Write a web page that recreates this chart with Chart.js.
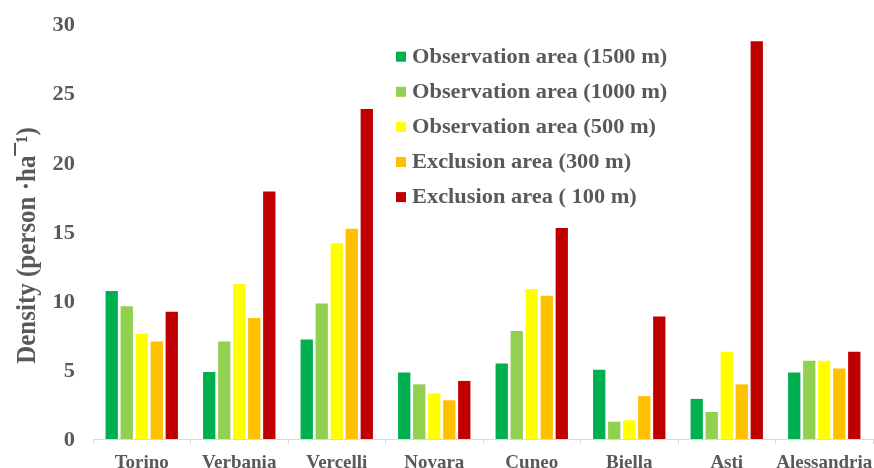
<!DOCTYPE html>
<html>
<head>
<meta charset="utf-8">
<script src="https://cdn.jsdelivr.net/npm/chart.js@4"></script>
<style>
  html, body { margin: 0; padding: 0; background: #fff; }
  #wrap { width: 874px; height: 468px; }
</style>
</head>
<body>
<div id="wrap"><canvas id="c" width="874" height="468"></canvas></div>
<script>
// Population density per province, by observation / exclusion radius
const provinces = ['Torino', 'Verbania', 'Vercelli', 'Novara', 'Cuneo', 'Biella', 'Asti', 'Alessandria'];
const obs1500 = [10.7, 4.85, 7.2, 4.8, 5.45, 5.0, 2.9, 4.8];
const obs1000 = [9.6, 7.05, 9.8, 3.95, 7.8, 1.25, 1.95, 5.65];
const obs500  = [7.6, 11.2, 14.15, 3.3, 10.85, 1.35, 6.3, 5.65];
const excl300 = [7.05, 8.75, 15.2, 2.8, 10.35, 3.1, 3.95, 5.1];
const excl100 = [9.2, 17.9, 23.85, 4.2, 15.25, 8.85, 28.75, 6.3];
const seriesNames = [
  'Observation area (1500 m)',
  'Observation area (1000 m)',
  'Observation area (500 m)',
  'Exclusion area (300 m)',
  'Exclusion area ( 100 m)'
];
const seriesColors = ['#00B050', '#92D050', '#FFFF00', '#FFC000', '#C00000'];
const yTicks = [0, 5, 10, 15, 20, 25, 30];
const yTitle = 'Density (person ·ha¯¹)';

const textColor = '#595959';
const serif = "'Liberation Serif', 'Times New Roman', serif";
const STRETCH = 1.12; // wide-set lettering

function wideText(ctx, text, x, y, opts) {
  ctx.save();
  ctx.font = opts.font;
  ctx.fillStyle = textColor;
  ctx.textAlign = opts.align || 'left';
  ctx.textBaseline = opts.baseline || 'middle';
  ctx.translate(x, y);
  ctx.scale(opts.stretch || STRETCH, 1);
  if (opts.rotate) ctx.rotate(opts.rotate);
  ctx.fillText(text, 0, 0);
  ctx.restore();
}

// Axis labels, axis title and legend, all in the same serif lettering
const lettering = {
  id: 'lettering',
  afterDraw(chart) {
    const ctx = chart.ctx;
    const xs = chart.scales.x, ys = chart.scales.y;
    const tickFont = 'bold 20px ' + serif;

    xs.ticks.forEach((t, i) => {
      wideText(ctx, chart.data.labels[i], xs.getPixelForTick(i), 468,
        { font: 'bold 19px ' + serif, align: 'center', baseline: 'alphabetic', stretch: 1.0 });
    });
    ys.ticks.forEach(t => {
      wideText(ctx, String(t.value), 75, ys.getPixelForValue(t.value) + 2, { font: tickFont, align: 'right' });
    });
    wideText(ctx, yTitle, 35, (ys.top + ys.bottom) / 2 + 14,
      { font: 'bold 25px ' + serif, align: 'center', baseline: 'alphabetic', rotate: -Math.PI / 2 });

    chart.data.datasets.forEach((ds, i) => {
      const y = 56.7 + i * 35.1;
      ctx.fillStyle = ds.backgroundColor;
      ctx.fillRect(396, y - 5, 10, 10);
      wideText(ctx, ds.label, 412, y + 1, { font: tickFont, align: 'left' });
    });
  }
};

const series = [obs1500, obs1000, obs500, excl300, excl100];

new Chart(document.getElementById('c'), {
  type: 'bar',
  data: {
    labels: provinces,
    datasets: series.map((vals, i) => ({
      label: seriesNames[i],
      data: vals,
      backgroundColor: seriesColors[i],
      borderWidth: 0,
      categoryPercentage: 0.77,
      barPercentage: 0.82
    }))
  },
  options: {
    responsive: false,
    animation: false,
    layout: { padding: { top: 24, right: 1, left: 93, bottom: 24 } },
    plugins: {
      legend: { display: false },
      tooltip: { enabled: false }
    },
    scales: {
      x: {
        grid: {
          display: true,
          drawOnChartArea: false,
          drawTicks: true,
          tickLength: 5,
          color: '#D9D9D9',
          offset: true
        },
        border: { display: true, color: '#D9D9D9', width: 1 },
        ticks: { display: false, autoSkip: false }
      },
      y: {
        min: 0,
        max: 30,
        afterBuildTicks(scale) { scale.ticks = yTicks.map(v => ({ value: v })); },
        grid: { display: false, drawTicks: false },
        border: { display: false },
        ticks: { display: false }
      }
    }
  },
  plugins: [lettering]
});
</script>
</body>
</html>
